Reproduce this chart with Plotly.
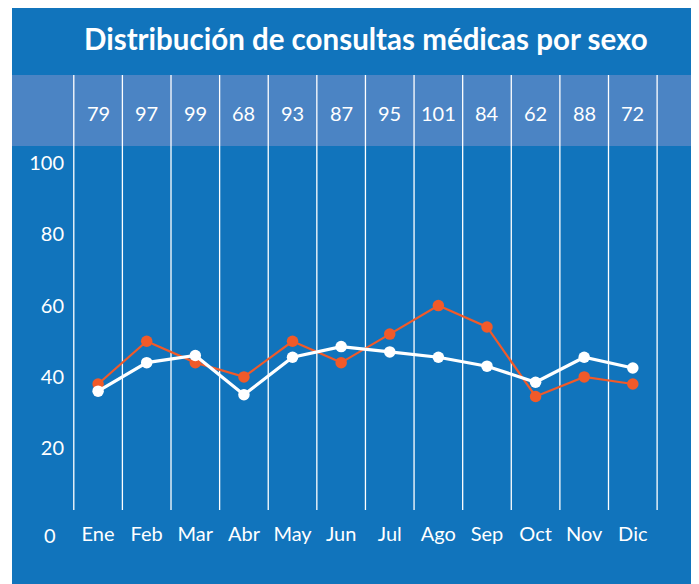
import plotly.graph_objects as go

months = ["Ene", "Feb", "Mar", "Abr", "May", "Jun", "Jul", "Ago", "Sep", "Oct", "Nov", "Dic"]
totals = [79, 97, 99, 68, 93, 87, 95, 101, 84, 62, 88, 72]
serie_blanca = [36, 44, 46, 35, 45.5, 48.5, 47, 45.5, 43, 38.5, 45.5, 42.5]
serie_naranja = [38, 50, 44, 40, 50, 44, 52, 60, 54, 34.5, 40, 38]
y_ticks = [0, 20, 40, 60, 80, 100]
title_text = "Distribución de consultas médicas por sexo"

BLUE = "#1174bc"
LIGHT = "#4b84c4"
ORANGE = "#f15a29"
FONT = "Lato"

OFF = 8  # page body margin
FW, FH = 688, 576
ML, MB = 62, 74
PW, PH = FW - ML, FH - MB


def px_x(s):
    return (s - OFF - ML) / PW


def px_y(s):
    return (PH - (s - OFF)) / PH


x = list(range(len(months)))

fig = go.Figure()
fig.add_trace(go.Scatter(
    x=x, y=serie_naranja, mode="lines+markers", name="Mujeres",
    line=dict(color=ORANGE, width=2.2),
    marker=dict(color=ORANGE, size=11.5),
    hoverinfo="x+y",
))
fig.add_trace(go.Scatter(
    x=x, y=serie_blanca, mode="lines+markers", name="Hombres",
    line=dict(color="white", width=3.2),
    marker=dict(color="white", size=11.5),
    hoverinfo="x+y",
))

shapes = []
shapes.append(dict(type="rect", xref="paper", yref="paper", x0=px_x(0), x1=px_x(12),
                   y0=px_y(600), y1=px_y(0), fillcolor="white", line_width=0, layer="below"))
shapes.append(dict(type="rect", xref="paper", yref="paper", x0=px_x(12), x1=px_x(700),
                   y0=px_y(146), y1=px_y(75), fillcolor=LIGHT, line_width=0, layer="below"))
for k in range(len(months) + 1):
    shapes.append(dict(type="line", xref="x", yref="paper", x0=k - 0.5, x1=k - 0.5,
                       y0=0, y1=px_y(75), line=dict(color="white", width=1.3), layer="below"))

annotations = []
annotations.append(dict(text=title_text, xref="paper", yref="paper", x=px_x(366), y=px_y(39),
                        showarrow=False, font=dict(family=FONT, size=29.5, color="white", weight="bold"),
                        xanchor="center", yanchor="middle"))
for i, t in enumerate(totals):
    annotations.append(dict(text=str(t), xref="x", yref="paper", x=i, y=px_y(113),
                            showarrow=False, font=dict(family=FONT, size=20, color="white"),
                            xanchor="center", yanchor="middle"))
annotations.append(dict(text=str(y_ticks[0]), xref="paper", yref="paper", x=px_x(50), y=px_y(535),
                        showarrow=False, font=dict(family=FONT, size=20, color="white"),
                        xanchor="center", yanchor="middle"))

fig.update_layout(
    width=FW, height=FH,
    margin=dict(l=ML, r=0, t=0, b=MB, pad=0),
    paper_bgcolor=BLUE, plot_bgcolor=BLUE,
    showlegend=False,
    shapes=shapes, annotations=annotations,
    font=dict(family=FONT, color="white", size=20),
    xaxis=dict(range=[-0.578, 12.30], tickvals=x, ticktext=months, showgrid=False,
               zeroline=False, showline=False, ticks="", ticklabelstandoff=10,
               tickfont=dict(size=20, color="white", family=FONT), fixedrange=True),
    yaxis=dict(range=[2.66, 143.48], tickvals=y_ticks[1:], ticktext=[str(v) for v in y_ticks[1:]],
               showgrid=False, zeroline=False, showline=False, ticks="", ticklabelstandoff=5,
               tickfont=dict(size=20, color="white", family=FONT), fixedrange=True),
)

fig.write_html("out.html")
